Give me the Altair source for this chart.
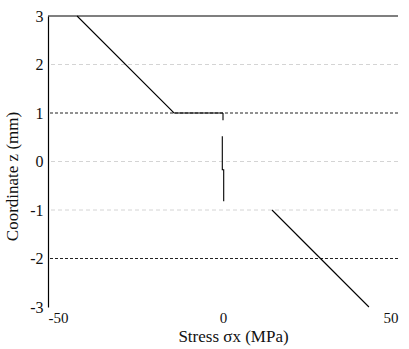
import altair as alt
import pandas as pd

# Stress profile through the laminate thickness, one polyline per segment
seg_top_x = [-41.7, -14.0, 0.0]
seg_top_z = [3.0, 1.0, 1.0]
seg_tick_x = [0.0, 0.0]
seg_tick_z = [1.0, 0.85]
seg_mid_x = [-0.2, -0.2, 0.2, 0.2]
seg_mid_z = [0.52, -0.17, -0.17, -0.82]
seg_low_x = [14.0, 41.7]
seg_low_z = [-1.0, -3.0]

# Layer interfaces
dark_levels = [1, -2]
light_levels = [2, 0, -1]

x_ticks = [-50, 0, 50]
z_ticks = [-3, -2, -1, 0, 1, 2, 3]

rows = []
for name, xs, zs in [("top", seg_top_x, seg_top_z), ("tick", seg_tick_x, seg_tick_z),
                     ("mid", seg_mid_x, seg_mid_z), ("low", seg_low_x, seg_low_z)]:
    for i, (a, b) in enumerate(zip(xs, zs)):
        rows.append({"seg": name, "i": i, "stress": a, "z": b})
profile = pd.DataFrame(rows)

FONT = "Times New Roman, Liberation Serif, DejaVu Serif, serif"
xs = alt.Scale(domain=[-50, 50], nice=False, zero=False)
zs = alt.Scale(domain=[-3, 3], nice=False, zero=False)

x_axis = alt.Axis(values=x_ticks, title="Stress σx (MPa)", grid=False, domain=False,
                  ticks=False, labelFont=FONT, labelFontSize=15, labelColor="#111",
                  labelExpr="'' + datum.value", labelPadding=3, titleFont=FONT,
                  titleFontSize=17, titleFontWeight="normal", titleColor="#111",
                  titlePadding=3, titleX=185)
y_axis = alt.Axis(values=z_ticks, title="Coordinate z (mm)", grid=False, domain=True,
                  domainColor="#000", domainWidth=1.2, ticks=False, labelFont=FONT,
                  labelFontSize=16, labelColor="#111", labelExpr="'' + datum.value",
                  labelPadding=5, titleFont=FONT, titleFontSize=17,
                  titleFontWeight="normal", titleColor="#111", titlePadding=8, titleY=160)

base = alt.Chart(profile)

lines = base.mark_line(color="#000", strokeWidth=1.1).encode(
    x=alt.X("stress:Q", scale=xs, axis=x_axis),
    y=alt.Y("z:Q", scale=zs, axis=y_axis),
    detail="seg:N",
    order="i:Q",
)

dark = alt.Chart(pd.DataFrame({"z": dark_levels})).mark_rule(
    color="#222", strokeWidth=1, strokeDash=[3, 2]
).encode(y=alt.Y("z:Q", scale=zs))

light = alt.Chart(pd.DataFrame({"z": light_levels})).mark_rule(
    color="#d4d4d4", strokeWidth=1, strokeDash=[4, 3]
).encode(y=alt.Y("z:Q", scale=zs))

top = alt.Chart(pd.DataFrame({"z": [3]})).mark_rule(color="#000", strokeWidth=1.2).encode(
    y=alt.Y("z:Q", scale=zs)
)

chart = (light + dark + top + lines).properties(
    width=350, height=291,
    autosize=alt.AutoSizeParams(type="none"),
    padding={"left": 48, "top": 16, "right": 11, "bottom": 42},
    background="white",
).configure_view(stroke=None)

chart.save("out.html", embed_options={"renderer": "svg", "actions": False})
